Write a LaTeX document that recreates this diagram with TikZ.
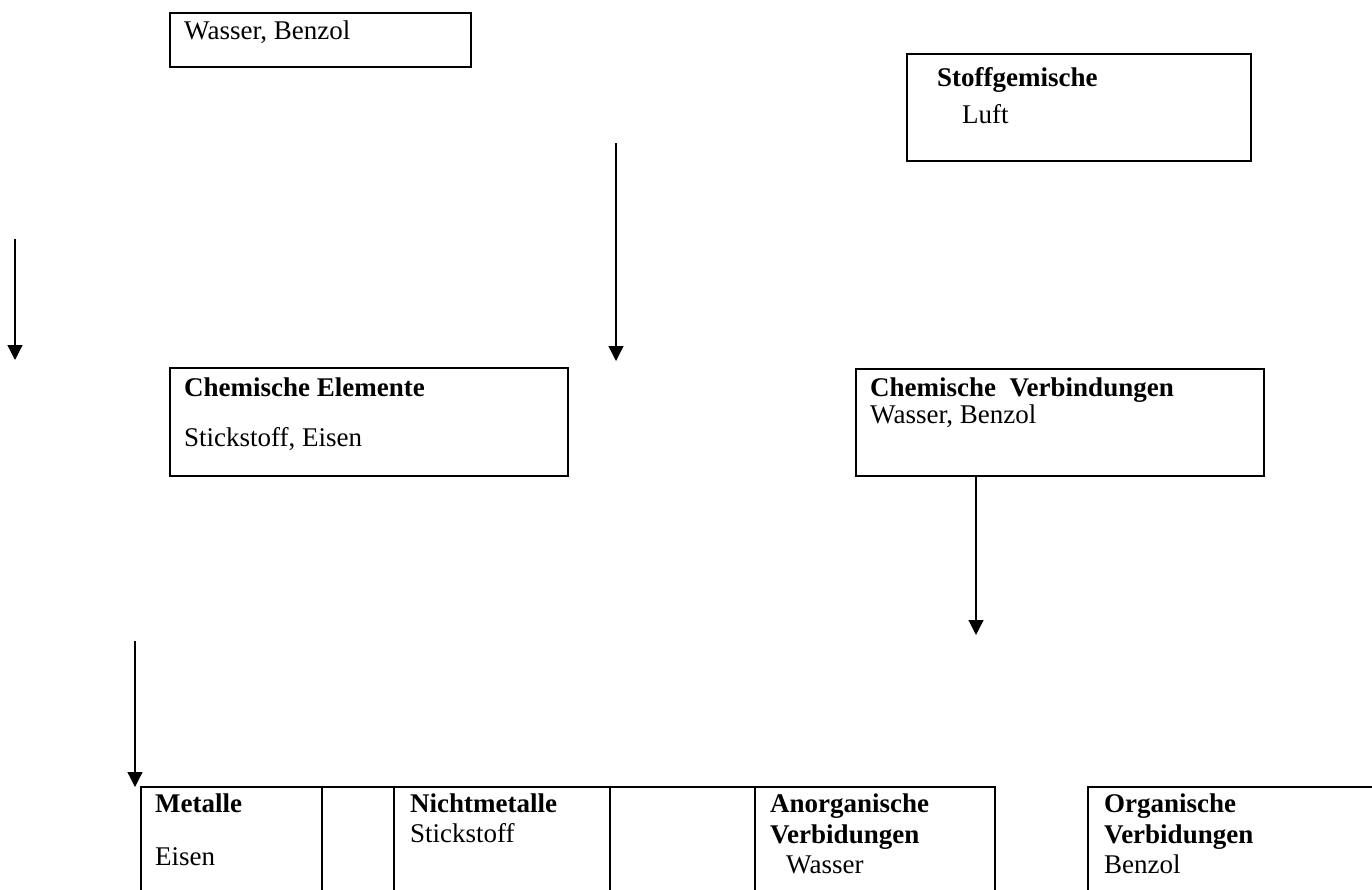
\documentclass[tikz,border=0pt]{standalone}
\usepackage{fontspec}
\setmainfont{Liberation Serif}
\usetikzlibrary{arrows.meta}
\tikzset{
  box/.style={draw, line width=2pt, inner sep=0pt, outer sep=0pt},
  txt/.style={anchor=base west, inner sep=0pt, font=\fontsize{27}{32}\selectfont},
  btxt/.style={txt, font=\fontsize{27}{32}\selectfont\bfseries},
  arr/.style={line width=1.2pt, -{Triangle[width=15pt,length=15pt]}}
}
\begin{document}
\begin{tikzpicture}[x=1pt,y=-1pt]
\useasboundingbox (0,0) rectangle (1372,890);
\clip (0,0) rectangle (1372,890);
% top boxes
\draw[box] (170,13) rectangle (471,67); \node (b1) at (320,40) {};
\node[txt] (b1t) at (184,40) {Wasser, Benzol};
\draw[box] (907,54) rectangle (1251,161); \node (sg) at (1079,107) {};
\node[btxt] (sgt) at (937,87) {Stoffgemische};
\node[txt] (sgl) at (962,124) {Luft};
% middle boxes
\draw[box] (170,368) rectangle (568,476); \node (ce) at (369,422) {};
\node[btxt] (cet) at (184,396) {Chemische Elemente};
\node[txt] (cel) at (184,446) {Stickstoff, Eisen};
\draw[box] (856,369) rectangle (1264,476); \node (cv) at (1060,422) {};
\node[btxt] (cvt) at (870,396) {Chemische\ \ Verbindungen};
\node[txt] (cvl) at (870,423) {Wasser, Benzol};
% arrows
\coordinate (a1s) at (15,239); \coordinate (a1e) at (15,360);
\draw[arr] (a1s) -- (a1e);
\coordinate (a2s) at (616,143); \coordinate (a2e) at (616,361);
\draw[arr] (a2s) -- (a2e);
\coordinate (a3s) at (976,476); \coordinate (a3e) at (976,635);
\draw[arr] (a3s) -- (a3e);
\coordinate (a4s) at (135,641); \coordinate (a4e) at (135,787);
\draw[arr] (a4s) -- (a4e);
% bottom table
\draw[box] (141,787) rectangle (322,905);
\draw[box] (322,787) rectangle (394,905);
\draw[box] (394,787) rectangle (610,905);
\draw[box] (610,787) rectangle (755,905);
\draw[box] (755,787) rectangle (995,905);
\draw[box] (1088,787) rectangle (1390,905);
\node[btxt] (m1) at (155,812) {Metalle};
\node[txt] (m2) at (155,865) {Eisen};
\node[btxt] (n1) at (410,812) {Nichtmetalle};
\node[txt] (n2) at (410,842) {Stickstoff};
\node[btxt] (an1) at (770,812) {Anorganische};
\node[btxt] (an2) at (770,843) {Verbidungen};
\node[txt] (an3) at (786,873) {Wasser};
\node[btxt] (o1) at (1104,812) {Organische};
\node[btxt] (o2) at (1104,843) {Verbidungen};
\node[txt] (o3) at (1104,873) {Benzol};
\end{tikzpicture}
\end{document}
